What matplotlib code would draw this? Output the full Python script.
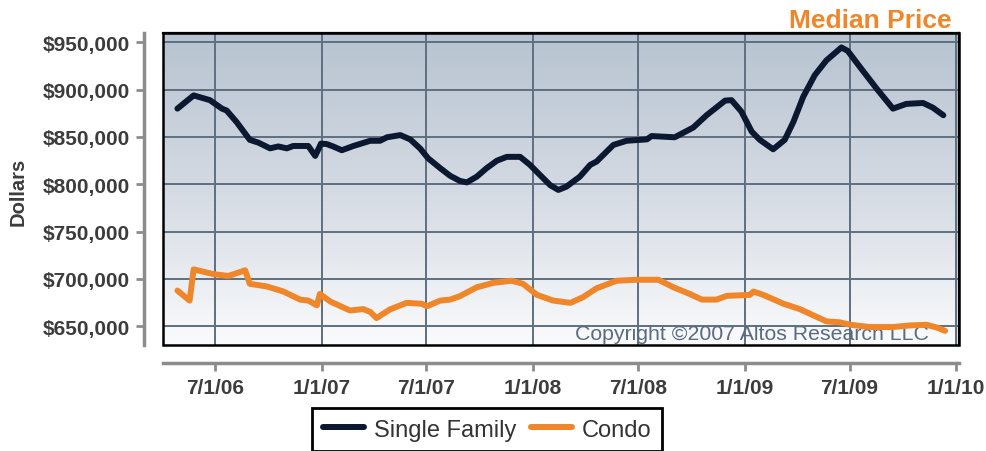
import numpy as np
import pandas as pd
import matplotlib
matplotlib.use('Agg')
import matplotlib.pyplot as plt
from matplotlib.patches import Rectangle
from matplotlib.colors import LinearSegmentedColormap

plt.rcParams['font.family'] = ['Liberation Sans', 'DejaVu Sans']

# Single family median price
sf_dates = ['2006-04-27', '2006-05-25', '2006-06-22', '2006-07-13', '2006-07-21',
            '2006-08-07', '2006-08-30', '2006-09-14', '2006-10-04', '2006-10-18',
            '2006-11-02', '2006-11-13', '2006-12-09', '2006-12-21', '2006-12-31',
            '2007-01-10', '2007-01-21', '2007-02-05', '2007-02-25', '2007-03-26',
            '2007-04-12', '2007-04-24', '2007-05-17', '2007-06-03', '2007-06-20',
            '2007-07-04', '2007-07-25', '2007-08-11', '2007-08-28', '2007-09-09',
            '2007-09-26', '2007-10-13', '2007-10-31', '2007-11-17', '2007-12-10',
            '2007-12-27', '2008-01-13', '2008-01-31', '2008-02-14', '2008-02-28',
            '2008-03-22', '2008-04-09', '2008-04-20', '2008-05-19', '2008-06-11',
            '2008-07-16', '2008-07-24', '2008-09-02', '2008-10-04', '2008-10-27',
            '2008-11-28', '2008-12-09', '2008-12-26', '2009-01-13', '2009-01-27',
            '2009-02-19', '2009-03-11', '2009-03-26', '2009-04-12', '2009-05-02',
            '2009-05-22', '2009-06-17', '2009-06-28', '2009-07-19', '2009-08-17',
            '2009-09-14', '2009-10-07', '2009-11-05', '2009-11-22', '2009-12-10']
sf_values = [880000, 894000, 889000, 880000, 878000,
             866000, 847000, 844000, 838000, 840000,
             838000, 840500, 840500, 830000, 843000,
             842500, 840000, 836000, 840500, 846000,
             846000, 849700, 852000, 847500, 838000,
             827500, 817000, 809000, 803500, 802000,
             808000, 817000, 825000, 829000, 829000,
             820500, 810000, 799000, 794000, 797500,
             808000, 820500, 824000, 841600, 846000,
             847500, 851000, 849700, 860000, 873000,
             888500, 889000, 877000, 855700, 847000,
             837000, 847000, 866000, 892600, 915500,
             931000, 944700, 941000, 924000, 901000,
             880000, 885000, 886000, 881000, 873000]

# Condo median price
condo_dates = ['2006-04-27', '2006-05-18', '2006-05-25', '2006-06-28', '2006-07-24',
               '2006-08-22', '2006-08-30', '2006-09-28', '2006-10-27', '2006-11-25',
               '2006-12-09', '2006-12-24', '2006-12-29', '2007-01-16', '2007-02-19',
               '2007-03-14', '2007-03-26', '2007-04-06', '2007-04-29', '2007-05-28',
               '2007-06-23', '2007-07-02', '2007-07-25', '2007-08-11', '2007-08-28',
               '2007-09-26', '2007-10-25', '2007-11-25', '2007-12-15', '2008-01-08',
               '2008-02-05', '2008-03-06', '2008-03-28', '2008-04-20', '2008-05-25',
               '2008-06-28', '2008-08-05', '2008-08-31', '2008-09-28', '2008-10-19',
               '2008-11-13', '2008-12-01', '2009-01-10', '2009-01-16', '2009-02-02',
               '2009-03-09', '2009-04-06', '2009-05-22', '2009-06-14', '2009-07-02',
               '2009-08-05', '2009-09-14', '2009-10-13', '2009-11-11', '2009-11-28',
               '2009-12-13']
condo_values = [687600, 677000, 710000, 705000, 703000,
                709000, 694700, 692000, 686600, 678000,
                677000, 672000, 684000, 676000, 666500,
                668000, 665000, 658500, 667600, 674600,
                673600, 671000, 677000, 678000, 681700,
                691000, 695800, 698000, 694700, 683000,
                677000, 674600, 680700, 690000, 698000,
                699000, 699000, 691000, 684000, 678000,
                678000, 682000, 683000, 686600, 683000,
                673600, 668000, 655000, 654000, 651400,
                649000, 649000, 650700, 651400, 648600,
                645000]

tick_dates = ['2006-07-01', '2007-01-01', '2007-07-01', '2008-01-01',
              '2008-07-01', '2009-01-01', '2009-07-01', '2010-01-01']
tick_labels = ['7/1/06', '1/1/07', '7/1/07', '1/1/08',
               '7/1/08', '1/1/09', '7/1/09', '1/1/10']
y_ticks = [650000, 700000, 750000, 800000, 850000, 900000, 950000]

axis_gray = '#8c8c8c'
text_gray = '#3c3c3c'

fig = plt.figure(figsize=(9.87, 4.52), dpi=100)
ax = fig.add_axes([0.1651, 0.2345, 0.8065, 0.6903])

# gradient background
grad = np.linspace(0, 1, 256).reshape(-1, 1)
cmap = LinearSegmentedColormap.from_list('bg', ['#b7c3d1', '#d4dae3', '#fafbfc'])
ax.imshow(grad, cmap=cmap, aspect='auto', extent=[0, 1, 0, 1],
          transform=ax.transAxes, zorder=0)

ax.plot(pd.to_datetime(sf_dates), sf_values, color='#0b1830', lw=4.3,
        solid_capstyle='round', solid_joinstyle='round', label='Single Family', zorder=3)
ax.plot(pd.to_datetime(condo_dates), condo_values, color='#f0862a', lw=4.3,
        solid_capstyle='round', solid_joinstyle='round', label='Condo', zorder=3)

ax.set_xlim(pd.Timestamp('2006-04-02'), pd.Timestamp('2010-01-06'))
ax.set_ylim(630000, 960000)

ax.set_xticks(pd.to_datetime(tick_dates))
ax.set_xticklabels(tick_labels)
ax.set_yticks(y_ticks)
ax.set_yticklabels(['${:,.0f}'.format(v) for v in y_ticks])
ax.grid(True, color='#5f6f80', lw=1.4, zorder=1)
ax.set_axisbelow(True)

for side in ['left', 'bottom']:
    ax.spines[side].set_color(axis_gray)
    ax.spines[side].set_linewidth(2.5)
ax.spines['left'].set_position(('outward', 14))
ax.spines['bottom'].set_position(('outward', 13))
for side in ['top', 'right']:
    ax.spines[side].set_color('black')
    ax.spines[side].set_linewidth(1.6)
ax.add_patch(Rectangle((0, 0), 1, 1, transform=ax.transAxes, fill=False,
                       ec='black', lw=1.8, zorder=5, clip_on=False))

ax.tick_params(axis='both', direction='out', length=6, width=2, color=axis_gray,
               labelcolor=text_gray, labelsize=15)
ax.tick_params(axis='y', pad=4)
ax.tick_params(axis='x', pad=5)
for lbl in ax.get_xticklabels() + ax.get_yticklabels():
    lbl.set_fontweight('bold')

ax.text(0.962, 0.019, 'Copyright \u00a92007 Altos Research LLC', transform=ax.transAxes,
        ha='right', va='baseline', fontsize=15.3, color='#5b6b80', zorder=2)

fig.text(0.0182, 1 - 192 / 452, 'Dollars', rotation=90, ha='center', va='center',
         fontsize=14.5, fontweight='bold', color=text_gray)
fig.text(952 / 987, 1 - 21 / 452, 'Median Price', ha='right', va='center',
         fontsize=19, fontweight='bold', color='#f0862a')

handles, labels = ax.get_legend_handles_labels()
leg = fig.legend(handles, labels, loc='upper left', bbox_to_anchor=(312 / 987, 1 - 409 / 452),
                 ncol=2, frameon=True, fancybox=False, edgecolor='black', framealpha=1,
                 fontsize=17, handlelength=1.74, handletextpad=0.42, columnspacing=0.64,
                 borderpad=0.45, borderaxespad=0)
leg.get_frame().set_linewidth(2)
for t in leg.get_texts():
    t.set_color('#333333')

fig.savefig('out.png', dpi=100)
